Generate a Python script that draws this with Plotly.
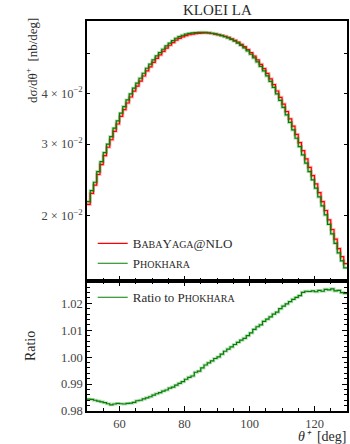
import plotly.graph_objects as go
from plotly.subplots import make_subplots

# Angular binning of theta+ (degrees): 80 bins of 1 degree
bin_lo = 50
bin_hi = 130
n_bins = 80

# Phokhara differential cross section per bin [nb/deg]
phokhara = [
    0.02166, 0.02305, 0.02417, 0.02567, 0.02716, 0.02858, 0.02998, 0.03129, 0.03282, 0.03419,
    0.03572, 0.03708, 0.03851, 0.03984, 0.04115, 0.04233, 0.04354, 0.04479, 0.04608, 0.04714,
    0.04829, 0.04940, 0.05034, 0.05131, 0.05228, 0.05309, 0.05387, 0.05460, 0.05511, 0.05554,
    0.05586, 0.05611, 0.05627, 0.05637, 0.05643, 0.05646, 0.05643, 0.05633, 0.05617, 0.05595,
    0.05570, 0.05541, 0.05507, 0.05470, 0.05424, 0.05372, 0.05312, 0.05243, 0.05169, 0.05082,
    0.04988, 0.04884, 0.04775, 0.04654, 0.04538, 0.04411, 0.04276, 0.04134, 0.03984, 0.03840,
    0.03691, 0.03537, 0.03391, 0.03250, 0.03100, 0.02957, 0.02821, 0.02692, 0.02567, 0.02450,
    0.02337, 0.02224, 0.02114, 0.02009, 0.01905, 0.01804, 0.01710, 0.01620, 0.01549, 0.01489,
]

# BabaYaga@NLO / Phokhara per bin
ratio_to_phokhara = [
    0.9844, 0.9843, 0.9840, 0.9837, 0.9834, 0.9831, 0.9827, 0.9823, 0.9826, 0.9828,
    0.9827, 0.9826, 0.9828, 0.9829, 0.9832, 0.9838, 0.9840, 0.9845, 0.9849, 0.9853,
    0.9859, 0.9864, 0.9868, 0.9874, 0.9878, 0.9885, 0.9889, 0.9896, 0.9903, 0.9909,
    0.9918, 0.9925, 0.9930, 0.9944, 0.9948, 0.9960, 0.9971, 0.9979, 0.9986, 0.9995,
    1.0001, 1.0011, 1.0022, 1.0030, 1.0038, 1.0047, 1.0055, 1.0063, 1.0070, 1.0080,
    1.0090, 1.0103, 1.0113, 1.0120, 1.0133, 1.0141, 1.0150, 1.0160, 1.0167, 1.0180,
    1.0190, 1.0198, 1.0206, 1.0215, 1.0222, 1.0229, 1.0241, 1.0245, 1.0244, 1.0246,
    1.0243, 1.0248, 1.0245, 1.0252, 1.0250, 1.0254, 1.0246, 1.0248, 1.0240, 1.0237,
]

# BabaYaga@NLO prediction from the Phokhara reference and the ratio
babayaga = [p * r for p, r in zip(phokhara, ratio_to_phokhara)]

y_tick_vals = [0.02, 0.03, 0.04]
y_tick_text = ["2 × 10<sup>−2</sup>", "3 × 10<sup>−2</sup>", "4 × 10<sup>−2</sup>"]
y_minor_vals = [0.05, 0.06]
x_tick_vals = [60, 80, 100, 120]

RED = "#ff0000"
GREEN = "#008000"
SERIF = "Liberation Serif"
TXT = "#2a2a2a"

edges = [bin_lo + i * (bin_hi - bin_lo) / n_bins for i in range(n_bins + 1)]


def steps(vals):
    return edges, list(vals) + [vals[-1]]


def sc(first, rest):
    return f'{first}<span style="font-size:10px">{rest}</span>'


name_bby = sc("B", "ABA") + sc("Y", "AGA") + "@NLO"
name_phk = sc("P", "HOKHARA")

fig = make_subplots(rows=2, cols=1, shared_xaxes=True, row_heights=[2 / 3, 1 / 3],
                    vertical_spacing=0)

# soft uncertainty bands under the histogram lines
for vals, col in [(babayaga, RED), (phokhara, GREEN)]:
    x, y = steps(vals)
    fig.add_trace(go.Scatter(x=x, y=y, mode="lines", line=dict(color=col, width=3, shape="hv"),
                             opacity=0.25, showlegend=False, hoverinfo="skip"), row=1, col=1)

x, y = steps(babayaga)
fig.add_trace(go.Scatter(x=x, y=y, mode="lines", name=name_bby, legend="legend",
                         line=dict(color=RED, width=1.2, shape="hv")), row=1, col=1)
x, y = steps(phokhara)
fig.add_trace(go.Scatter(x=x, y=y, mode="lines", name=name_phk, legend="legend",
                         line=dict(color=GREEN, width=1.2, shape="hv")), row=1, col=1)

x, y = steps(ratio_to_phokhara)
fig.add_trace(go.Scatter(x=x, y=y, mode="lines", line=dict(color=GREEN, width=3, shape="hv"),
                         opacity=0.25, showlegend=False, hoverinfo="skip"), row=2, col=1)
fig.add_trace(go.Scatter(x=x, y=y, mode="lines", name="Ratio to " + name_phk, legend="legend2",
                         line=dict(color=GREEN, width=1.2, shape="hv")), row=2, col=1)

axis_common = dict(showline=True, linecolor="black", linewidth=1.5, ticks="inside",
                   tickcolor="black", showgrid=False, zeroline=False,
                   tickfont=dict(family=SERIF, size=12.5, color="#444"))

fig.update_xaxes(range=[bin_lo, bin_hi], tickvals=x_tick_vals, ticklen=5, tickwidth=1,
                 minor=dict(dtick=5, tick0=0, ticklen=3, ticks="inside", tickcolor="black"),
                 **axis_common)
fig.update_xaxes(mirror=True, showticklabels=False, row=1, col=1)
fig.update_xaxes(mirror="allticks", row=2, col=1)

fig.update_yaxes(type="log", range=[-1.8595, -1.2204], tickvals=y_tick_vals, ticktext=y_tick_text,
                 ticklen=3, mirror="allticks",
                 minor=dict(tickvals=y_minor_vals, ticklen=3, ticks="inside", tickcolor="black"),
                 row=1, col=1, **axis_common)
fig.update_yaxes(range=[0.98, 1.0283], tickvals=[0.98, 0.99, 1.00, 1.01, 1.02], tickformat=".2f",
                 ticklen=5, mirror="allticks",
                 minor=dict(dtick=0.002, tick0=0.98, ticklen=3, ticks="inside", tickcolor="black"),
                 row=2, col=1, **axis_common)

legend_font = dict(family=SERIF, size=13, color=TXT)
fig.update_layout(
    width=350, height=444,
    margin=dict(l=87, r=1, t=21, b=33),
    paper_bgcolor="white", plot_bgcolor="white",
    showlegend=True,
    legend=dict(x=0.022, y=0.34, xanchor="left", yanchor="bottom", font=legend_font,
                bgcolor="rgba(0,0,0,0)", itemwidth=30, tracegroupgap=0),
    legend2=dict(x=0.022, y=0.33, xanchor="left", yanchor="top", font=legend_font,
                 bgcolor="rgba(0,0,0,0)", itemwidth=30),
    annotations=[
        dict(text="KLOEI LA", x=0.5, y=1.0, xref="paper", yref="paper", xanchor="center",
             yanchor="bottom", yshift=1, showarrow=False, font=dict(family=SERIF, size=15, color=TXT)),
        dict(text="dσ/dθ<sup>+</sup>  [nb/deg]", x=-0.215, y=0.9, xref="paper", yref="paper",
             textangle=-90, showarrow=False, xanchor="center", yanchor="middle",
             font=dict(family=SERIF, size=13, color=TXT)),
        dict(text="Ratio", x=-0.215, y=0.1667, xref="paper", yref="paper", textangle=-90,
             showarrow=False, xanchor="center", yanchor="middle",
             font=dict(family=SERIF, size=14, color=TXT)),
        dict(text="<i>θ⁺</i>  [deg]", x=1.0, y=-0.0872, xref="paper", yref="paper",
             xanchor="right", yanchor="bottom", showarrow=False, borderpad=0,
             font=dict(family=SERIF, size=14, color=TXT)),
    ],
)

fig.write_html("out.html")
